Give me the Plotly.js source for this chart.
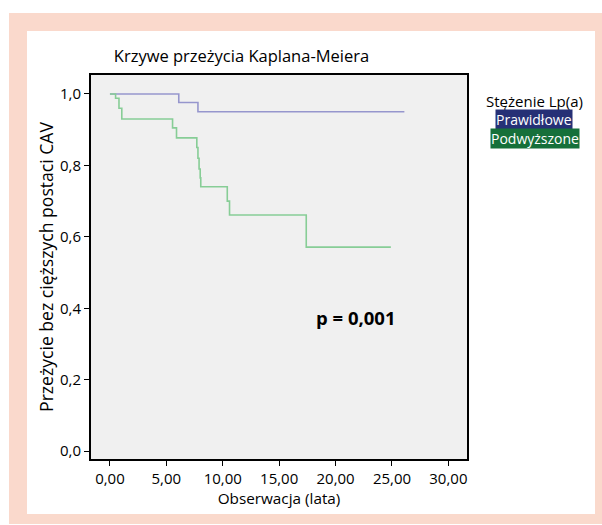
<!DOCTYPE html>
<html>
<head>
<meta charset="utf-8">
<script src="https://cdn.plot.ly/plotly-3.0.1.min.js"></script>
<style>html,body{margin:0;padding:0;background:#fff;}#chart{width:602px;height:525px;}</style>
</head>
<body>
<div id="chart"></div>
<script>
// Kaplan-Meier step data
const timeNormal = [0, 6.1, 7.8, 26.1];
const survNormal = [1.0, 0.976, 0.95, 0.95];
const timeElevated = [0, 0.5, 0.8, 1.05, 5.55, 5.9, 7.7, 7.8, 7.9, 8.0, 8.05, 10.4, 10.6, 17.4, 24.9];
const survElevated = [1.0, 0.988, 0.96, 0.93, 0.905, 0.877, 0.85, 0.82, 0.79, 0.765, 0.74, 0.70, 0.661, 0.571, 0.571];
const groupNames = ["Prawidłowe", "Podwyższone"];
const xTicks = [0, 5, 10, 15, 20, 25, 30];
const yTicks = [0, 0.2, 0.4, 0.6, 0.8, 1.0];

const W = 602, H = 525;
const L = 91, R = 467, T = 75, B = 459;
const px = v => (v - L) / (R - L);
const py = v => (B - v) / (B - T);
const FONT = "Open Sans, sans-serif";

const traces = [
  {x: timeNormal, y: survNormal, name: groupNames[0], type: "scatter", mode: "lines",
   line: {shape: "hv", color: "rgb(150,150,205)", width: 1.6}},
  {x: timeElevated, y: survElevated, name: groupNames[1], type: "scatter", mode: "lines",
   line: {shape: "hv", color: "rgb(135,205,150)", width: 1.6}}
];

const layout = {
  width: W, height: H,
  margin: {l: L, r: W - R, t: T, b: H - B, pad: 0},
  paper_bgcolor: "#ffffff",
  plot_bgcolor: "#f0f0f0",
  showlegend: false,
  separators: ",.",
  font: {family: FONT, color: "#000", size: 15},
  title: {text: "Krzywe przeżycia Kaplana-Meiera", font: {size: 16.5, color: "#000"},
          xref: "paper", x: px(241.5), xanchor: "center", yref: "container", y: 1 - 56 / H, yanchor: "middle"},
  xaxis: {range: [-1.68, 31.65], tickvals: xTicks, tickformat: ".2f", ticks: "outside", ticklen: 5,
          tickcolor: "#000", showline: true, linecolor: "#000", linewidth: 2, mirror: true,
          showgrid: false, zeroline: false, tickfont: {size: 15},
          title: {text: "Obserwacja (lata)", font: {size: 15.3}, standoff: 4}},
  yaxis: {range: [-0.022, 1.053], tickvals: yTicks, tickformat: ".1f", ticks: "outside", ticklen: 5,
          tickcolor: "#000", showline: true, linecolor: "#000", linewidth: 2, mirror: true,
          showgrid: false, zeroline: false, tickfont: {size: 15},
          title: {text: "Przeżycie bez cięższych postaci CAV", font: {size: 17.6}, standoff: 2}},
  shapes: [
    {type: "rect", xref: "paper", yref: "paper", layer: "below", x0: px(9), x1: px(602), y0: py(524), y1: py(13),
     fillcolor: "rgb(250,217,204)", line: {width: 0}},
    {type: "rect", xref: "paper", yref: "paper", layer: "below", x0: px(27), x1: px(595), y0: py(514), y1: py(31),
     fillcolor: "#ffffff", line: {width: 0}},
    {type: "rect", xref: "paper", yref: "paper", layer: "below", x0: 0, x1: 1, y0: 0, y1: 1,
     fillcolor: "#f0f0f0", line: {width: 0}}
  ],
  annotations: [
    {text: "Stężenie Lp(a)", xref: "paper", yref: "paper", x: px(534), y: py(101.5), xanchor: "center", yanchor: "middle",
     showarrow: false, font: {size: 15, color: "#000"}},
    {text: groupNames[0], xref: "paper", yref: "paper", x: px(534), y: py(119), xanchor: "center", yanchor: "middle",
     showarrow: false, font: {size: 14, color: "#fff"}, bgcolor: "rgb(38,48,118)", borderpad: 0},
    {text: groupNames[1], xref: "paper", yref: "paper", x: px(535), y: py(138.5), xanchor: "center", yanchor: "middle",
     showarrow: false, font: {size: 14, color: "#fff"}, bgcolor: "rgb(22,112,58)", borderpad: 0},
    {text: "<b>p = 0,001</b>", xref: "paper", yref: "paper", x: px(355), y: py(317), xanchor: "center", yanchor: "middle",
     showarrow: false, font: {size: 18.5, color: "#000"}}
  ]
};

Plotly.newPlot("chart", traces, layout, {displayModeBar: false, staticPlot: true});
</script>
</body>
</html>
